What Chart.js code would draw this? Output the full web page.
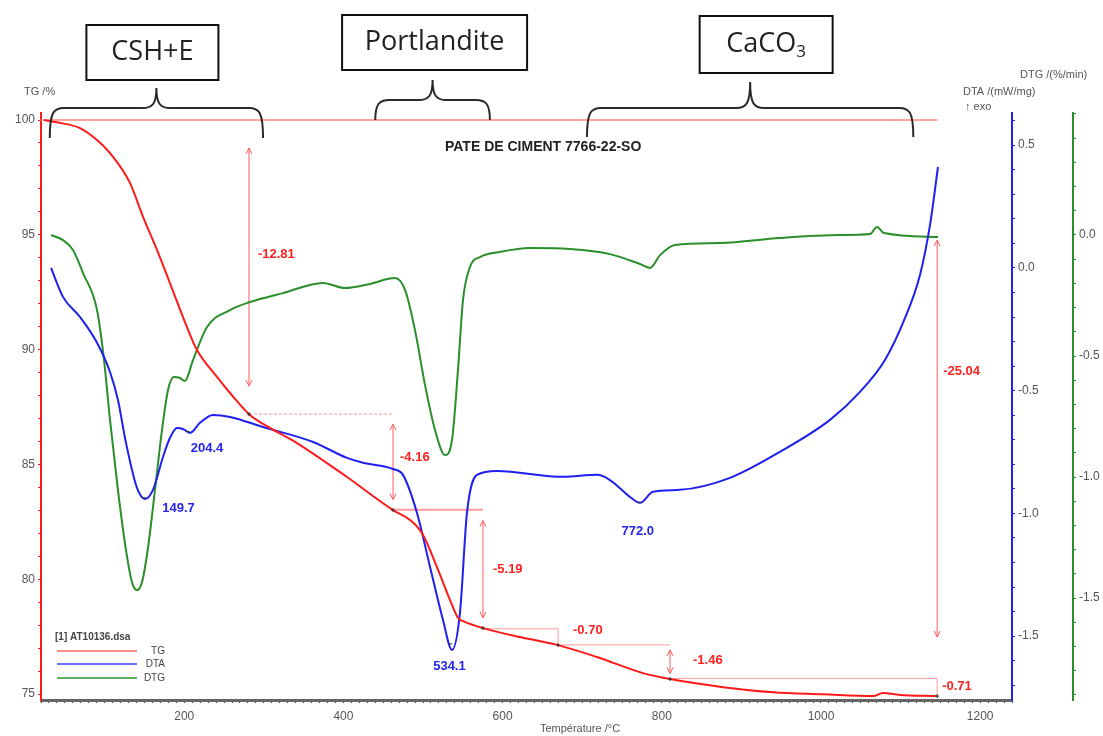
<!DOCTYPE html>
<html><head><meta charset="utf-8">
<script src="https://cdn.jsdelivr.net/npm/chart.js@4.4.1/dist/chart.umd.min.js"></script>
<style>html,body{margin:0;padding:0;background:#fff}canvas{display:block}</style>
</head><body>
<canvas id="c" width="1103" height="736"></canvas>
<script>
// ---------- DATA ----------
const tgTemp = [23.8,37.6,69,90.4,106.7,131.8,148.2,165.7,182,203.4,216,241.1,257.5,281.3,307.7,341.6,404.5,462.3,483.6,498.7,517.5,533.9,544,552,575.3,621.8,669.6,718.6,776.4,810.3,876.9,939.7,1002.5,1065.4,1078,1099,1145.8];
const tgValues = [100.0,99.91,99.65,99.13,98.56,97.26,95.78,94.34,92.90,90.98,89.98,88.81,88.11,87.19,86.59,85.93,84.45,83.01,82.58,82.01,80.53,79.09,78.31,78.15,77.87,77.48,77.13,76.61,75.91,75.65,75.30,75.08,74.99,74.91,75.04,74.96,74.91];

const dtaTemp = [32.6,47.6,69.0,90.4,106.7,116.7,126.8,140.6,150.7,160.7,173.3,182.1,190.9,198.4,207.2,219.8,236.1,257.5,298.9,361.8,404.5,424.6,462.3,474.8,492.4,508.8,525.1,536.4,546.4,555.2,567.8,592.9,675.9,718.6,734.9,760.0,772.6,788.9,822.8,885.7,948.5,1011.3,1049,1080.4,1105.6,1124.4,1137,1147];
const dtaValues = [0.000,-0.118,-0.200,-0.305,-0.424,-0.538,-0.713,-0.896,-0.941,-0.904,-0.770,-0.692,-0.652,-0.656,-0.672,-0.631,-0.599,-0.607,-0.648,-0.709,-0.774,-0.794,-0.819,-0.843,-0.998,-1.218,-1.434,-1.556,-1.405,-0.998,-0.843,-0.827,-0.851,-0.843,-0.864,-0.933,-0.957,-0.912,-0.904,-0.855,-0.749,-0.619,-0.505,-0.375,-0.204,-0.029,0.175,0.411];

const dtgTemp = [32.6,47.6,60.2,72.8,90.4,99.2,106.7,116.7,126.8,134.3,140.6,146.9,154.4,163.2,172.0,179.6,187.1,194.6,200.9,211.0,228.6,257.5,282.6,324.1,374.3,402,433.4,464.8,477.4,489.9,502.5,515.1,527.6,536.4,543.9,550.2,559.0,571.6,596.7,634.4,684.7,734.9,772.6,785.2,797.8,816.6,873.1,948.5,1023.9,1061.6,1070.4,1079.2,1147];
const dtgValues = [0.000,-0.021,-0.062,-0.157,-0.310,-0.517,-0.764,-1.054,-1.302,-1.434,-1.467,-1.434,-1.293,-1.054,-0.806,-0.640,-0.587,-0.591,-0.603,-0.517,-0.380,-0.310,-0.277,-0.240,-0.198,-0.219,-0.202,-0.178,-0.227,-0.393,-0.620,-0.806,-0.909,-0.847,-0.558,-0.269,-0.132,-0.091,-0.070,-0.054,-0.058,-0.079,-0.120,-0.136,-0.083,-0.041,-0.033,-0.012,0.000,0.004,0.033,0.008,-0.008];

const xTickLabels = [200,400,600,800,1000,1200];
const tgTickLabels = [75,80,85,90,95,100];
const dtaTickLabels = [-1.5,-1.0,-0.5,0.0,0.5];
const dtgTickLabels = [-1.5,-1.0,-0.5,0.0];

// TG step analysis
const stepTemps = [281.3,462.3,575.3,669.6,810.3,1146];
const stepLevels = [100,87.19,83.03,77.84,77.14,75.68,74.97];
const stepLabels = ['-12.81','-4.16','-5.19','-0.70','-1.46','-0.71'];
const totalLossLabel = '-25.04';
const totalArrowSpan = [94.77,77.48];

// DTA peaks
const peakTemps = [149.7,204.4,534.1,772.0];
const peakLabels = ['149.7','204.4','534.1','772.0'];

// phases
const phaseNames = ['CSH+E','Portlandite','CaCO|3'];
const phaseRanges = [[31,299],[440,584],[706,1116]];

const chartTitle = 'PATE DE CIMENT 7766-22-SO';
const legendFile = '[1] AT10136.dsa';
const seriesNames = ['TG','DTA','DTG'];

// ---------- STYLE ----------
const RED='#ff1a1a', BLUE='#1f1ff0', GREEN='#2a8f2a';
const TICKFONT = {family:'"Liberation Sans", Arial, sans-serif', size:12};
const TICKCOLOR = '#555';

function rangeTicks(lo,hi,step){ const out=[]; const n=Math.round((hi-lo)/step); for(let i=0;i<=n;i++) out.push(Math.round((lo+i*step)*1000)/1000); return out; }
function hasLabel(list,v){ return list.some(l=>Math.abs(l-v)<1e-6); }
function interp(xs,ys,x){ for(let i=0;i<xs.length-1;i++){ if(x>=xs[i]&&x<=xs[i+1]){ const t=(x-xs[i])/(xs[i+1]-xs[i]); return ys[i]+t*(ys[i+1]-ys[i]); } } return ys[ys.length-1]; }

const stepStyle = {
  labelDx:[9,7,10,15,23,5], labelDy:[-13,-4,0,2,-1,0],
  arrow:[true,true,true,false,true,false], inset:[28,10,11,0,5,0],
  dashed:[true,false,false,false,false,false]
};
const peakStyle = {dx:[18,3,-17,-18], dy:[11,17,23,29]};
const phaseStyle = {
  boxDx:[-4,2,16], boxW:[132,185,133], boxTop:[25,15,16], boxH:[55,55,57],
  braceEnd:[138,120,137], braceH:[108,100,108], bracePeak:[88,80,82]
};

function arrowV(ctx,x,y1,y2,head){
  ctx.beginPath(); ctx.moveTo(x,y1); ctx.lineTo(x,y2); ctx.stroke();
  if(head){
    ctx.beginPath();
    ctx.moveTo(x-3,y1+6); ctx.lineTo(x,y1); ctx.lineTo(x+3,y1+6);
    ctx.moveTo(x-3,y2-6); ctx.lineTo(x,y2); ctx.lineTo(x+3,y2-6);
    ctx.stroke();
  }
}
function brace(ctx,x1,x2,xm,yEnd,yH,yPeak){
  const r=14;
  ctx.beginPath();
  ctx.moveTo(x1,yEnd);
  ctx.bezierCurveTo(x1,yH+4,x1+4,yH,x1+r,yH);
  ctx.lineTo(xm-r,yH);
  ctx.bezierCurveTo(xm-4,yH,xm,yH-4,xm,yPeak);
  ctx.bezierCurveTo(xm,yH-4,xm+4,yH,xm+r,yH);
  ctx.lineTo(x2-r,yH);
  ctx.bezierCurveTo(x2-4,yH,x2,yH+4,x2,yEnd);
  ctx.stroke();
}

const overlay = {
  id:'overlay',
  beforeDraw(chart){ const c=chart.ctx; c.save(); c.fillStyle='#fff'; c.fillRect(0,0,chart.width,chart.height); c.restore(); },
  beforeDatasetsDraw(chart){
    const ctx=chart.ctx, X=v=>chart.scales.x.getPixelForValue(v), Y=v=>chart.scales.yTG.getPixelForValue(v);
    const last=stepTemps.length-1;
    ctx.save();
    ctx.strokeStyle='#ffa3a3'; ctx.lineWidth=2;
    ctx.beginPath(); ctx.moveTo(chart.chartArea.left,Y(stepLevels[0])); ctx.lineTo(X(stepTemps[last]),Y(stepLevels[0])); ctx.stroke();
    for(let i=0;i<last;i++){
      ctx.strokeStyle='#ff9a9a'; ctx.lineWidth = i===1?2:1;
      ctx.setLineDash(stepStyle.dashed[i]?[3,2]:[]);
      const y=Y(stepLevels[i+1]);
      ctx.beginPath(); ctx.moveTo(X(stepTemps[i]),y); ctx.lineTo(X(stepTemps[i+1]),y); ctx.stroke();
    }
    ctx.setLineDash([]);
    ctx.lineWidth=1;
    for(let i=0;i<=last;i++){
      const x=X(stepTemps[i]); const y1=Y(stepLevels[i])+stepStyle.inset[i], y2=Y(stepLevels[i+1])-stepStyle.inset[i];
      ctx.strokeStyle = stepStyle.arrow[i] ? '#ff5c5c' : '#ff9a9a';
      arrowV(ctx,x,y1,y2,stepStyle.arrow[i]);
    }
    ctx.strokeStyle='#ff5c5c';
    arrowV(ctx,X(stepTemps[last]),Y(totalArrowSpan[0]),Y(totalArrowSpan[1]),true);
    ctx.restore();
  },
  afterDatasetsDraw(chart){
    const ctx=chart.ctx, X=v=>chart.scales.x.getPixelForValue(v), Y=v=>chart.scales.yTG.getPixelForValue(v), YD=v=>chart.scales.yDTA.getPixelForValue(v);
    const last=stepTemps.length-1;
    ctx.save();
    ctx.strokeStyle='#333'; ctx.lineWidth=1;
    for(let i=0;i<=last;i++){ const x=X(stepTemps[i]), y=Y(interp(tgTemp,tgValues,stepTemps[i]));
      ctx.beginPath(); ctx.moveTo(x-2,y); ctx.lineTo(x+2,y); ctx.moveTo(x,y-2); ctx.lineTo(x,y+2); ctx.stroke(); }
    ctx.fillStyle='#ff2020'; ctx.font='bold 13px "Liberation Sans", Arial, sans-serif'; ctx.textBaseline='middle'; ctx.textAlign='left';
    for(let i=0;i<=last;i++){
      const x=X(stepTemps[i]) + stepStyle.labelDx[i];
      const y=(i===3? Y(stepLevels[i]) : (Y(stepLevels[i])+Y(stepLevels[i+1]))/2) + stepStyle.labelDy[i];
      ctx.fillText(stepLabels[i], x, y);
    }
    ctx.fillText(totalLossLabel, X(stepTemps[last])+6, (Y(stepLevels[0])+Y(stepLevels[stepLevels.length-1]))/2-36);
    for(let i=0;i<peakTemps.length;i++){
      const x=X(peakTemps[i]), y=YD(interp(dtaTemp,dtaValues,peakTemps[i]));
      ctx.strokeStyle='#333'; ctx.beginPath(); ctx.moveTo(x-2,y); ctx.lineTo(x+2,y); ctx.stroke();
      ctx.fillStyle='#2525ee'; ctx.font='bold 13px "Liberation Sans", Arial, sans-serif';
      ctx.fillText(peakLabels[i], x+peakStyle.dx[i], y+peakStyle.dy[i]);
    }
    ctx.fillStyle='#222'; ctx.font='bold 14px "Liberation Sans", Arial, sans-serif'; ctx.textAlign='left';
    ctx.fillText(chartTitle, 445, 147);
    ctx.fillStyle='#555'; ctx.font='11px "Liberation Sans", Arial, sans-serif';
    ctx.fillText('TG /%', 24, 92);
    ctx.fillText('DTA /(mW/mg)', 963, 92);
    ctx.fillText('\u2191 exo', 965, 107);
    ctx.fillText('DTG /(%/min)', 1020, 75);
    ctx.textAlign='center';
    ctx.fillText('Température /°C', 580, 729);
    ctx.textAlign='left'; ctx.fillStyle='#444'; ctx.font='bold 10px "Liberation Sans", Arial, sans-serif';
    ctx.fillText(legendFile, 55, 637);
    const lc=['#ff8a8a','#6f6fff','#5fae5f'], ly=[651,664,678];
    ctx.font='10px "Liberation Sans", Arial, sans-serif';
    for(let i=0;i<3;i++){
      ctx.strokeStyle=lc[i]; ctx.lineWidth=2; ctx.beginPath(); ctx.moveTo(57,ly[i]); ctx.lineTo(137,ly[i]); ctx.stroke();
      ctx.fillStyle='#444'; ctx.textAlign='right'; ctx.fillText(seriesNames[i],165,ly[i]);
    }
    for(let i=0;i<phaseNames.length;i++){
      const x1=X(phaseRanges[i][0]), x2=X(phaseRanges[i][1]), xm=(x1+x2)/2;
      ctx.strokeStyle='#2a2a2a'; ctx.lineWidth=2;
      brace(ctx,x1,x2,xm,phaseStyle.braceEnd[i],phaseStyle.braceH[i],phaseStyle.bracePeak[i]);
      const cx=xm+phaseStyle.boxDx[i], w=phaseStyle.boxW[i], h=phaseStyle.boxH[i], top=phaseStyle.boxTop[i];
      ctx.fillStyle='#fff'; ctx.fillRect(cx-w/2,top,w,h);
      ctx.strokeStyle='#111'; ctx.lineWidth=2; ctx.strokeRect(cx-w/2,top,w,h);
      const parts=phaseNames[i].split('|');
      ctx.fillStyle='#222'; ctx.textBaseline='middle';
      ctx.font='27px "Open Sans", sans-serif';
      const w1=ctx.measureText(parts[0]).width;
      let w2=0; if(parts[1]){ ctx.font='17px "Open Sans", sans-serif'; w2=ctx.measureText(parts[1]).width; }
      const sx=cx-(w1+w2)/2;
      ctx.textAlign='left'; ctx.font='27px "Open Sans", sans-serif';
      ctx.fillText(parts[0],sx,top+h/2);
      if(parts[1]){ ctx.font='17px "Open Sans", sans-serif'; ctx.fillText(parts[1],sx+w1,top+h/2+8); }
    }
    ctx.restore();
  }
};

function pts(xs,ys){ return xs.map((x,i)=>({x:x,y:ys[i]})); }

const xMinor = rangeTicks(20,1240,10);
const tgMinor = rangeTicks(75,100,1);
const dtaMinor = rangeTicks(-1.7,0.6,0.1);
const dtgMinor = rangeTicks(-1.9,0.5,0.1);

new Chart(document.getElementById('c'),{
  type:'line',
  data:{datasets:[
    {label:'TG',data:pts(tgTemp,tgValues),yAxisID:'yTG',borderColor:RED,borderWidth:2,pointRadius:0,cubicInterpolationMode:'monotone'},
    {label:'DTA',data:pts(dtaTemp,dtaValues),yAxisID:'yDTA',borderColor:BLUE,borderWidth:2,pointRadius:0,cubicInterpolationMode:'monotone'},
    {label:'DTG',data:pts(dtgTemp,dtgValues),yAxisID:'yDTG',borderColor:GREEN,borderWidth:2,pointRadius:0,cubicInterpolationMode:'monotone'}
  ]},
  options:{
    responsive:false, animation:false,
    layout:{padding:{top:113,left:0,right:0,bottom:0}},
    plugins:{legend:{display:false},tooltip:{enabled:false}},
    scales:{
      x:{type:'linear',min:20,max:1240,
        afterFit(s){s.height=36;},
        afterBuildTicks(s){s.ticks=xMinor.map(v=>({value:v}));},
        ticks:{autoSkip:false,maxRotation:0,padding:6,font:TICKFONT,color:TICKCOLOR,callback:v=>hasLabel(xTickLabels,v)?String(v):''},
        grid:{drawOnChartArea:false,tickLength:3,color:'#444'},
        border:{color:'#666',width:3}},
      yTG:{position:'left',min:74.74,max:100.305,
        afterFit(s){s.width=41;},
        afterBuildTicks(s){s.ticks=tgMinor.map(v=>({value:v}));},
        ticks:{autoSkip:false,padding:3,font:TICKFONT,color:TICKCOLOR,callback:v=>hasLabel(tgTickLabels,v)?String(v):''},
        grid:{drawOnChartArea:false,tickLength:3,color:RED},
        border:{color:RED,width:2}},
      yDTA:{position:'right',weight:0,min:-1.760,max:0.631,
        afterFit(s){s.width=61;},
        afterBuildTicks(s){s.ticks=dtaMinor.map(v=>({value:v}));},
        ticks:{autoSkip:false,padding:3,font:TICKFONT,color:TICKCOLOR,callback:v=>hasLabel(dtaTickLabels,v)?v.toFixed(1):''},
        grid:{drawOnChartArea:false,tickLength:3,color:BLUE},
        border:{color:BLUE,width:2}},
      yDTG:{position:'right',weight:1,min:-1.921,max:0.504,
        afterFit(s){s.width=30;},
        afterBuildTicks(s){s.ticks=dtgMinor.map(v=>({value:v}));},
        ticks:{autoSkip:false,padding:3,font:TICKFONT,color:TICKCOLOR,callback:v=>hasLabel(dtgTickLabels,v)?v.toFixed(1):''},
        grid:{drawOnChartArea:false,tickLength:3,color:GREEN},
        border:{color:GREEN,width:2}}
    }
  },
  plugins:[overlay]
});
</script>
</body></html>
